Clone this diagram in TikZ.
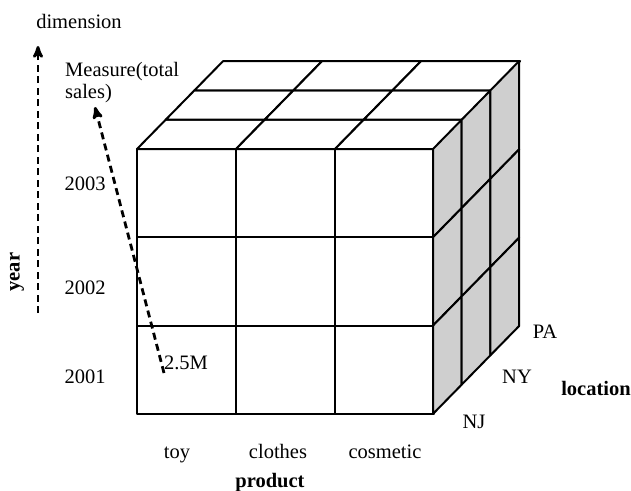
\documentclass[tikz,border=0pt]{standalone}
\usepackage{fontspec}
\setmainfont{Liberation Serif}
\usetikzlibrary{arrows,positioning}

\begin{document}
\begin{tikzpicture}[x=1pt,y=-1pt,>=stealth',
	lbl/.style={font=\fontsize{20.5}{22}\selectfont,inner sep=0pt},
	axislbl/.style={font=\fontsize{20.5}{22}\selectfont\bfseries,inner sep=0pt},
	cube/.style={draw=black,line width=2pt,line join=round},
	side/.style={cube,fill=black!19},
	dimarrow/.style={->,line width=2.8pt,dash pattern=on 7pt off 4.5pt}]
	\useasboundingbox (0,0) rectangle (631,490);

	% front face
	\foreach \i in {0,1,2}
		\foreach \j in {0,1,2}
			\draw[cube] (137+99*\i,149+88.3*\j) rectangle ++(99,88.3);
	% top face
	\foreach \k in {0,1,2}
		\foreach \i in {0,1,2}
			\draw[cube,fill=white] (137+99*\i+28.7*\k,149-29.3*\k) -- ++(99,0) -- ++(28.7,-29.3) -- ++(-99,0) -- cycle;
	% right face
	\foreach \k in {0,1,2}
		\foreach \j in {0,1,2}
			\draw[side] (433+28.7*\k,149+88.3*\j-29.3*\k) -- ++(28.7,-29.3) -- ++(0,88.3) -- ++(-28.7,29.3) -- cycle;

	\node[lbl]			(dimension)	at (79,21)		{dimension};
	\node[lbl,align=left,anchor=north west]	(measure)	at (65,62)	{Measure(total\\sales)};
	\node[axislbl,rotate=90]	(year)		at (17,272)		{year};

	\node[lbl]			(y2003)		at (85,184)		{2003};
	\node[lbl]			(y2002)		at (85,288)		{2002};
	\node[lbl]			(y2001)		at (85,377)		{2001};
	\node[lbl]			(cell)		at (186,363)	{2.5M};

	\node[lbl,anchor=base]	(toy)		at (177,458)	{toy};
	\node[lbl,anchor=base]	(clothes)	at (278,458)	{clothes};
	\node[lbl,anchor=base]	(cosmetic)	at (385,458)	{cosmetic};
	\node[axislbl,anchor=base]	(product)	at (270,487)	{product};

	\node[lbl]			(PA)		at (545,332)	{PA};
	\node[lbl]			(NY)		at (517,377)	{NY};
	\node[lbl]			(NJ)		at (474,422)	{NJ};
	\node[axislbl]		(location)	at (596,388)	{location};

	\coordinate (yearfoot)	at (38,313);
	\coordinate (dimtip)	at (38,46);
	\coordinate (cellfoot)	at (164,373);
	\coordinate (measuretip)	at (95,107);

	\draw[dimarrow] (yearfoot) -- (dimtip);
	\draw[dimarrow] (cellfoot) -- (measuretip);
\end{tikzpicture}
\end{document}
